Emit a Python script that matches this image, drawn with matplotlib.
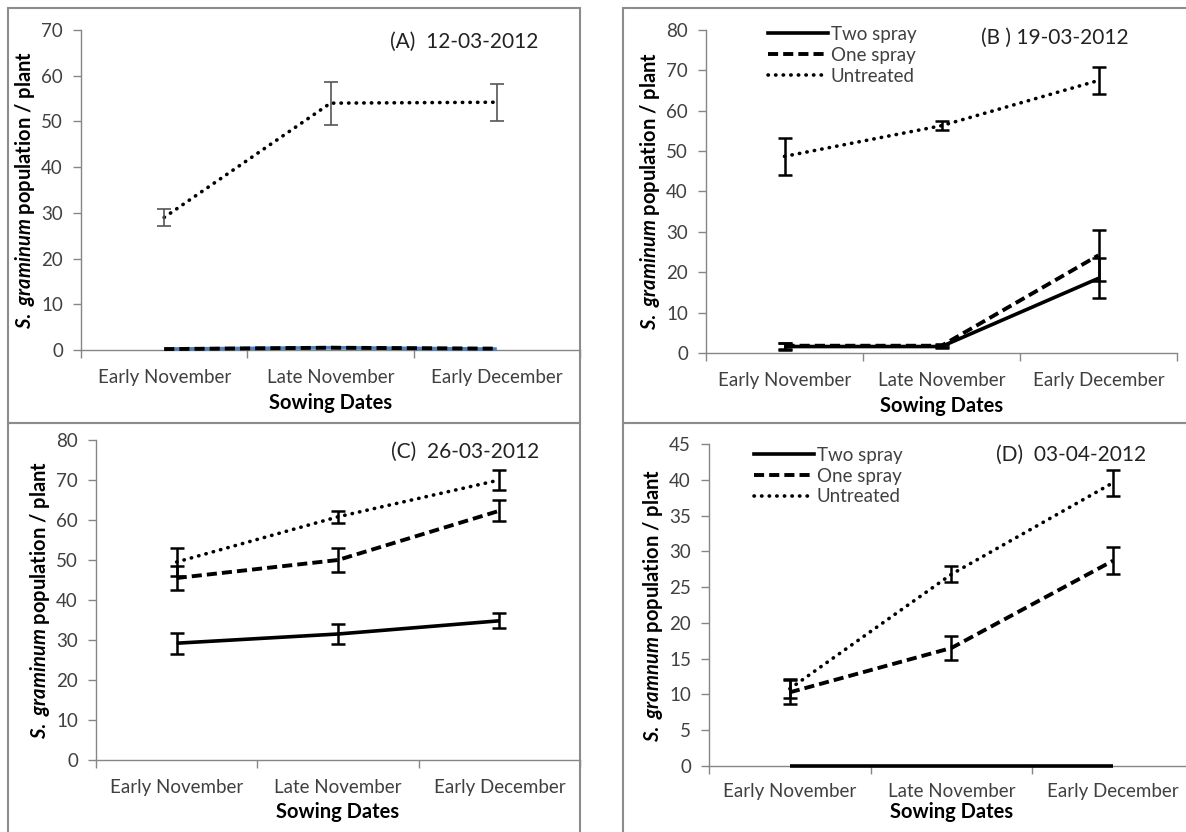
import numpy as np
import matplotlib
matplotlib.use("Agg")
from matplotlib import pyplot as plt
from matplotlib.patches import Rectangle
from matplotlib.lines import Line2D

plt.rcParams["font.family"] = ["Lato", "DejaVu Sans"]
plt.rcParams["mathtext.fontset"] = "custom"
plt.rcParams["mathtext.it"] = "Lato:italic:bold"
plt.rcParams["mathtext.rm"] = "Lato:bold"

categories = ["Early November", "Late November", "Early December"]
series_names = ["Two spray", "One spray", "Untreated"]

# (A) 12-03-2012
a_two = [0.2, 0.5, 0.2]
a_one = [0.2, 0.5, 0.3]
a_untreated = [29.0, 54.0, 54.2]
a_untreated_err = [1.8, 4.7, 4.0]

# (B) 19-03-2012
b_two = [1.6, 1.6, 18.5]
b_two_err = [0.8, 0.4, 5.0]
b_one = [1.8, 1.8, 24.2]
b_one_err = [0.8, 0.4, 6.3]
b_untreated = [48.7, 56.3, 67.5]
b_untreated_err = [4.5, 1.1, 3.3]

# (C) 26-03-2012
c_two = [29.2, 31.5, 34.8]
c_two_err = [2.6, 2.4, 1.9]
c_one = [45.5, 50.0, 62.3]
c_one_err = [3.0, 2.9, 2.6]
c_untreated = [49.5, 60.8, 70.0]
c_untreated_err = [3.6, 1.5, 2.4]

# (D) 03-04-2012
d_two = [0.0, 0.0, 0.0]
d_one = [10.3, 16.5, 28.7]
d_one_err = [1.7, 1.7, 1.9]
d_untreated = [10.8, 26.8, 39.6]
d_untreated_err = [1.3, 1.1, 1.8]

W, H = 1186, 832
fig = plt.figure(figsize=(W / 100, H / 100), dpi=100)

AXIS_GRAY = "#868686"
TEXT_GRAY = "#404040"
TICK_FS = 13.5


def px_axes(left, top, right, bottom):
    return fig.add_axes([left / W, 1 - bottom / H, (right - left) / W, (bottom - top) / H])


def frame(x0, y0, x1, y1):
    fig.patches.append(Rectangle((x0 / W, 1 - y1 / H), (x1 - x0) / W, (y1 - y0) / H,
                                 transform=fig.transFigure, fill=False,
                                 edgecolor="#8c8c8c", linewidth=1.5))


styles = {
    "Two spray": dict(color="black", linestyle="-", linewidth=2.6),
    "One spray": dict(color="black", linestyle=(0, (2.6, 1.3)), linewidth=2.8),
    "Untreated": dict(color="black", linestyle=(0, (0.1, 2.0)), linewidth=2.6, dash_capstyle="round"),
}


def style_axes(ax, ymax, ystep, title, ylabel, title_xy, xlabelpad=5):
    x = np.arange(len(categories)) + 0.5
    ax.set_xlim(0, len(categories))
    ax.set_ylim(0, ymax)
    ax.set_yticks(np.arange(0, ymax + 0.01, ystep))
    ax.set_xticks(x)
    ax.set_xticklabels(categories)
    ax.set_xticks(np.arange(len(categories) + 1), minor=True)
    ax.tick_params(axis="x", which="major", length=0, pad=14, labelsize=TICK_FS, labelcolor=TEXT_GRAY)
    ax.tick_params(axis="x", which="minor", length=6, direction="out", color=AXIS_GRAY, width=1)
    ax.tick_params(axis="y", length=6, direction="out", color=AXIS_GRAY, width=1, pad=7,
                   labelsize=TICK_FS, labelcolor=TEXT_GRAY)
    for s in ["top", "right"]:
        ax.spines[s].set_visible(False)
    for s in ["left", "bottom"]:
        ax.spines[s].set_color(AXIS_GRAY)
        ax.spines[s].set_linewidth(1)
    ax.set_xlabel("Sowing Dates", fontsize=14.5, fontweight="bold", labelpad=xlabelpad)
    ax.set_ylabel(ylabel, fontsize=14.5, fontweight="bold", labelpad=3)
    ax.text(title_xy[0], title_xy[1], title, transform=fig.transFigure, fontsize=15,
            color="#222222", ha="left", va="center")
    return x


def draw(ax, x, values, name, err=None, ecolor="black", elw=1.8, color=None, zorder=3):
    kw = dict(styles[name])
    if color:
        kw["color"] = color
    ax.plot(x, values, zorder=zorder, clip_on=False, solid_capstyle="butt", **kw)
    if err is not None:
        ax.errorbar(x, values, yerr=err, fmt="none", ecolor=ecolor, elinewidth=elw,
                    capsize=5, capthick=elw, zorder=zorder + 1)


def legend(ax, handles, x0, y0):
    ax.legend(handles, series_names, loc="upper left", bbox_to_anchor=(x0 / W, 1 - y0 / H),
              bbox_transform=fig.transFigure, frameon=False, fontsize=TICK_FS, handlelength=3.2,
              handletextpad=0.15, labelspacing=0.2, borderaxespad=0, borderpad=0,
              labelcolor=TEXT_GRAY)


ylab = r"$\mathit{S.\ graminum}$ population / plant"
ylab_d = r"$\mathit{S.\ gramnum}$ population / plant"

# panel frames
frame(8, 8, 580, 423)
frame(623, 8, 1200, 423)
frame(8, 423, 580, 845)
frame(623, 423, 1200, 845)

handles = [Line2D([], [], **styles[n]) for n in series_names]

# (A)
ax = px_axes(81, 30, 580, 350)
x = style_axes(ax, 70, 10, "(A)  12-03-2012", ylab, (390 / W, 1 - 42 / H))
draw(ax, x, a_two, "Two spray", color="#4f81bd", zorder=3)
draw(ax, x, a_one, "One spray", zorder=4)
draw(ax, x, a_untreated, "Untreated", err=a_untreated_err, ecolor="#555555", elw=1.2)

# (B)
ax = px_axes(706, 30, 1177, 353)
x = style_axes(ax, 80, 10, "(B ) 19-03-2012", ylab, (981 / W, 1 - 38 / H))
draw(ax, x, b_two, "Two spray", err=b_two_err)
draw(ax, x, b_one, "One spray", err=b_one_err)
draw(ax, x, b_untreated, "Untreated", err=b_untreated_err)
legend(ax, handles, 768, 26)

# (C)
ax = px_axes(96, 440, 580, 760)
x = style_axes(ax, 80, 10, "(C)  26-03-2012", ylab, (391 / W, 1 - 452 / H), xlabelpad=4)
draw(ax, x, c_two, "Two spray", err=c_two_err)
draw(ax, x, c_one, "One spray", err=c_one_err)
draw(ax, x, c_untreated, "Untreated", err=c_untreated_err)

# (D)
ax = px_axes(709, 444, 1194, 766)
x = style_axes(ax, 45, 5, "(D)  03-04-2012", ylab_d, (996 / W, 1 - 455 / H), xlabelpad=2)
ax.tick_params(axis="x", which="major", pad=12)
draw(ax, x, d_two, "Two spray", zorder=5)
draw(ax, x, d_one, "One spray", err=d_one_err)
draw(ax, x, d_untreated, "Untreated", err=d_untreated_err)
legend(ax, handles, 754, 447)

fig.savefig("out.png", dpi=100)
